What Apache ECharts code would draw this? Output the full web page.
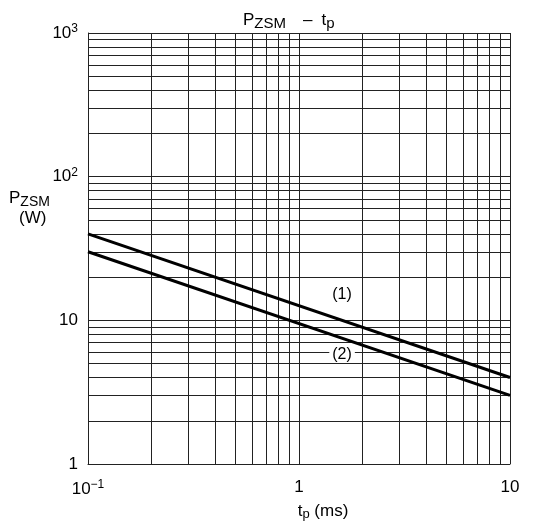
<!DOCTYPE html>
<html>
<head>
<meta charset="utf-8">
<script src="https://cdn.jsdelivr.net/npm/echarts@6/dist/echarts.min.js"></script>
<style>html,body{margin:0;padding:0;background:#fff}#c{width:533px;height:530px}</style>
</head>
<body>
<div id="c"></div>
<script>
// Data
var curve1 = [[0.1, 40], [10, 4]];
var curve2 = [[0.1, 30], [10, 3]];
var xGrid = [0.1,0.2,0.3,0.4,0.5,0.6,0.7,0.8,0.9,1,2,3,4,5,6,7,8,9,10];
var yGrid = [1,2,3,4,5,6,7,8,9,10,20,30,40,50,60,70,80,90,100,200,300,400,500,600,700,800,900,1000];
var xTickLabels = {0.1: '10{sup|−1}', 1: '1', 10: '10'};
var yTickLabels = {1: '1', 10: '10', 100: '10{sup|2}', 1000: '10{sup|3}'};
var label1 = {text: '(1)', x: 1.6, y: 15};
var label2 = {text: '(2)', x: 1.6, y: 5.8};

var FONT = 'Liberation Sans, Arial, sans-serif';
var chart = echarts.init(document.getElementById('c'), null, {renderer: 'canvas'});
var grid = [];
xGrid.forEach(function(v){ grid.push({xAxis: v}); });
yGrid.forEach(function(v){ grid.push({yAxis: v}); });

function fmt(map){ return function(v){ var k = +(+v).toPrecision(6); return map[k] !== undefined ? map[k] : ''; }; }

var supRich = {sup: {fontSize: 12, fontFamily: FONT, color: '#000', verticalAlign: 'top', padding: [0,0,8,0]}};

chart.setOption({
  animation: false,
  backgroundColor: '#fff',
  title: {
    text: 'P{sub|ZSM}{gap|–}t{sub|p}',
    left: 238, top: 4,
    textStyle: {fontFamily: FONT, fontSize: 17, fontWeight: 'normal', color: '#000',
      rich: {sub: {fontSize: 15, fontFamily: FONT, color:'#000', padding: [7,0,0,0]},
             gap: {fontSize: 17, fontFamily: FONT, color:'#000', padding: [0,9,0,17]}}}
  },
  graphic: [
    {type: 'text', left: 9, top: 190, style: {text: 'P{sub|ZSM}', font: '17px ' + FONT, fill: '#000',
      rich: {sub: {fontSize: 14, fontFamily: FONT, fill:'#000', padding: [7,0,0,0]}}}},
    {type: 'text', left: 19, top: 210, style: {text: '(W)', font: '17px ' + FONT, fill: '#000'}}
  ],
  grid: {left: 88, right: 23, top: 33, bottom: 66, containLabel: false},
  xAxis: {
    type: 'log', logBase: 10, min: 0.1, max: 10,
    name: 't{sub|p} (ms)', nameLocation: 'middle', nameGap: 34,
    nameTextStyle: {fontFamily: FONT, fontSize: 17, color: '#000', padding: [0,0,0,48],
      rich: {sub: {fontSize: 13, fontFamily: FONT, color:'#000', padding: [8,0,0,0]}}},
    axisLine: {show: true, lineStyle: {color: '#222', width: 1}},
    axisTick: {show: false},
    splitLine: {show: false},
    axisLabel: {formatter: fmt(xTickLabels), fontFamily: FONT, fontSize: 17, color: '#000', margin: 15, rich: supRich, showMinLabel: true, showMaxLabel: true}
  },
  yAxis: {
    type: 'log', logBase: 10, min: 1, max: 1000,
    axisLine: {show: true, lineStyle: {color: '#222', width: 1}},
    axisTick: {show: false},
    splitLine: {show: false},
    axisLabel: {formatter: fmt(yTickLabels), fontFamily: FONT, fontSize: 17, color: '#000', margin: 10, rich: supRich, showMinLabel: true, showMaxLabel: true}
  },
  series: [
    {
      type: 'line', data: curve1, symbol: 'none', silent: true,
      lineStyle: {color: '#000', width: 3},
      markLine: {silent: true, symbol: ['none','none'], label: {show: false},
        lineStyle: {color: '#222', width: 1, type: 'solid'}, data: grid, animation: false, z: 1},
      markPoint: {symbol: 'circle', symbolSize: 0, silent: true,
        data: [{coord: [label1.x, label1.y], value: label1.text}],
        label: {show: true, formatter: '{c}', fontFamily: FONT, fontSize: 16, color: '#000', position: 'inside'}}
    },
    {
      type: 'line', data: curve2, symbol: 'none', silent: true,
      lineStyle: {color: '#000', width: 3},
      markPoint: {symbol: 'circle', symbolSize: 0, silent: true,
        data: [{coord: [label2.x, label2.y], value: label2.text}],
        label: {show: true, formatter: '{c}', fontFamily: FONT, fontSize: 16, color: '#000', position: 'inside',
          backgroundColor: '#fff', padding: [0, 3]}}
    }
  ]
});
</script>
</body>
</html>
